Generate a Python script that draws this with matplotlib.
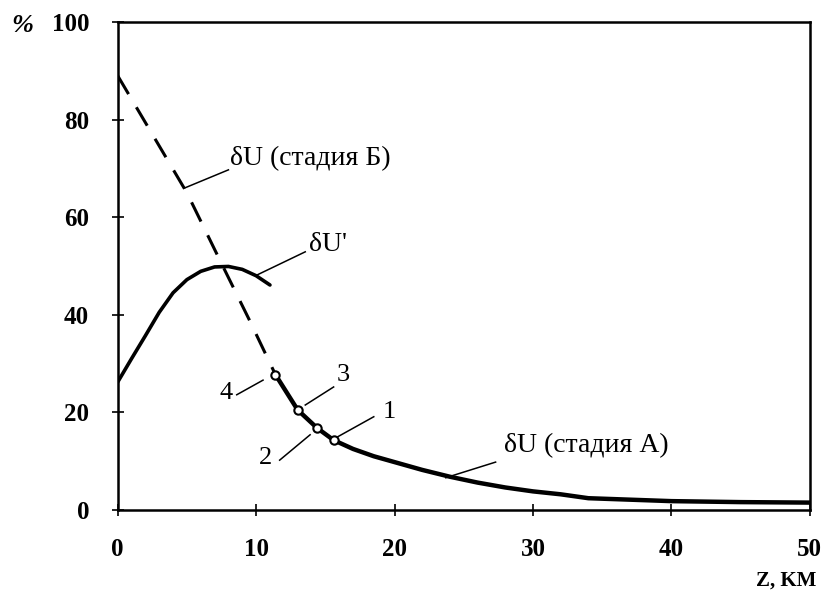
import matplotlib.pyplot as plt

# stage B (dashed) curve
z_b = [0, 2.5, 5.0, 7.5, 9.5, 11.4]
du_b = [89, 77, 65, 50.5, 39, 27.7]

# stage A (solid) curve
z_a = [11.4, 13.0, 14.4, 15.6, 17, 18.5, 20, 22, 24, 26, 28, 30, 32, 34, 37, 40, 45, 50]
du_a = [27.7, 20.5, 16.8, 14.3, 12.5, 11.0, 9.8, 8.2, 6.8, 5.6, 4.6, 3.8, 3.2, 2.4, 2.1, 1.8, 1.6, 1.5]

# dU' curve
z_p = [0, 1, 2, 3, 4, 5, 6, 7, 8, 9, 10, 11]
du_p = [26.2, 31, 35.7, 40.5, 44.5, 47.2, 48.9, 49.8, 49.9, 49.3, 48.0, 46.1]

# marked points 1..4
pt_z = [15.6, 14.4, 13.0, 11.4]
pt_du = [14.3, 16.8, 20.5, 27.7]

xticks = [0, 10, 20, 30, 40, 50]
yticks = [0, 20, 40, 60, 80, 100]

plt.rcParams['font.family'] = ['Liberation Serif', 'DejaVu Serif']

fig = plt.figure(figsize=(8.23, 5.95), dpi=100)
ax = fig.add_axes([0.143, 0.143, 0.841, 0.820])

ax.plot(z_b, du_b, color='black', lw=2.2, linestyle=(0, (7, 5)))
ax.plot(z_a, du_a, color='black', lw=3.2, solid_capstyle='round')
ax.plot(z_p, du_p, color='black', lw=2.6, solid_capstyle='round')
ax.plot(pt_z, pt_du, 'o', ms=6, mfc='white', mec='black', mew=1.5, zorder=5)

ax.set_xlim(0, 50)
ax.set_ylim(0, 100)
ax.set_xticks(xticks)
ax.set_yticks(yticks)
ax.tick_params(direction='inout', length=9, width=1.2, labelsize=18)
ax.tick_params(axis='x', pad=16)
ax.tick_params(axis='y', pad=16)
for lab in ax.get_xticklabels() + ax.get_yticklabels():
    lab.set_fontweight('bold')
for s in ax.spines.values():
    s.set_linewidth(1.8)

tk = dict(color='black', lw=1.1)
fs = 20
ax.plot([4.85, 8.0], [66, 69.7], **tk)
ax.text(8.1, 72, "δU (стадия Б)", fontsize=fs, va='center', ha='left')
ax.plot([10.1, 13.55], [48.2, 52.9], **tk)
ax.text(13.8, 54.5, "δU'", fontsize=fs, va='center', ha='left')
ax.plot([8.6, 10.5], [23.6, 26.6], **tk)
ax.text(7.8, 24, "4", fontsize=19, va='center', ha='center')
ax.plot([13.55, 15.6], [21.5, 25.2], **tk)
ax.text(16.3, 27.7, "3", fontsize=19, va='center', ha='center')
ax.plot([11.7, 13.9], [10.2, 15.4], **tk)
ax.text(10.7, 10.7, "2", fontsize=19, va='center', ha='center')
ax.plot([15.9, 18.5], [15.0, 19.1], **tk)
ax.text(19.6, 20.1, "1", fontsize=19, va='center', ha='center')
ax.plot([23.7, 27.3], [6.6, 9.8], **tk)
ax.text(27.9, 13.1, "δU (стадия А)", fontsize=fs, va='center', ha='left')

fig.text(22 / 823, 1 - 25 / 595, "%", fontsize=19, fontweight='bold',
         fontstyle='italic', ha='center', va='center')
fig.text(786 / 823, 1 - 581 / 595, "Z, KM", fontsize=15, fontweight='bold',
         ha='center', va='center')

fig.savefig("out.png", dpi=100)
